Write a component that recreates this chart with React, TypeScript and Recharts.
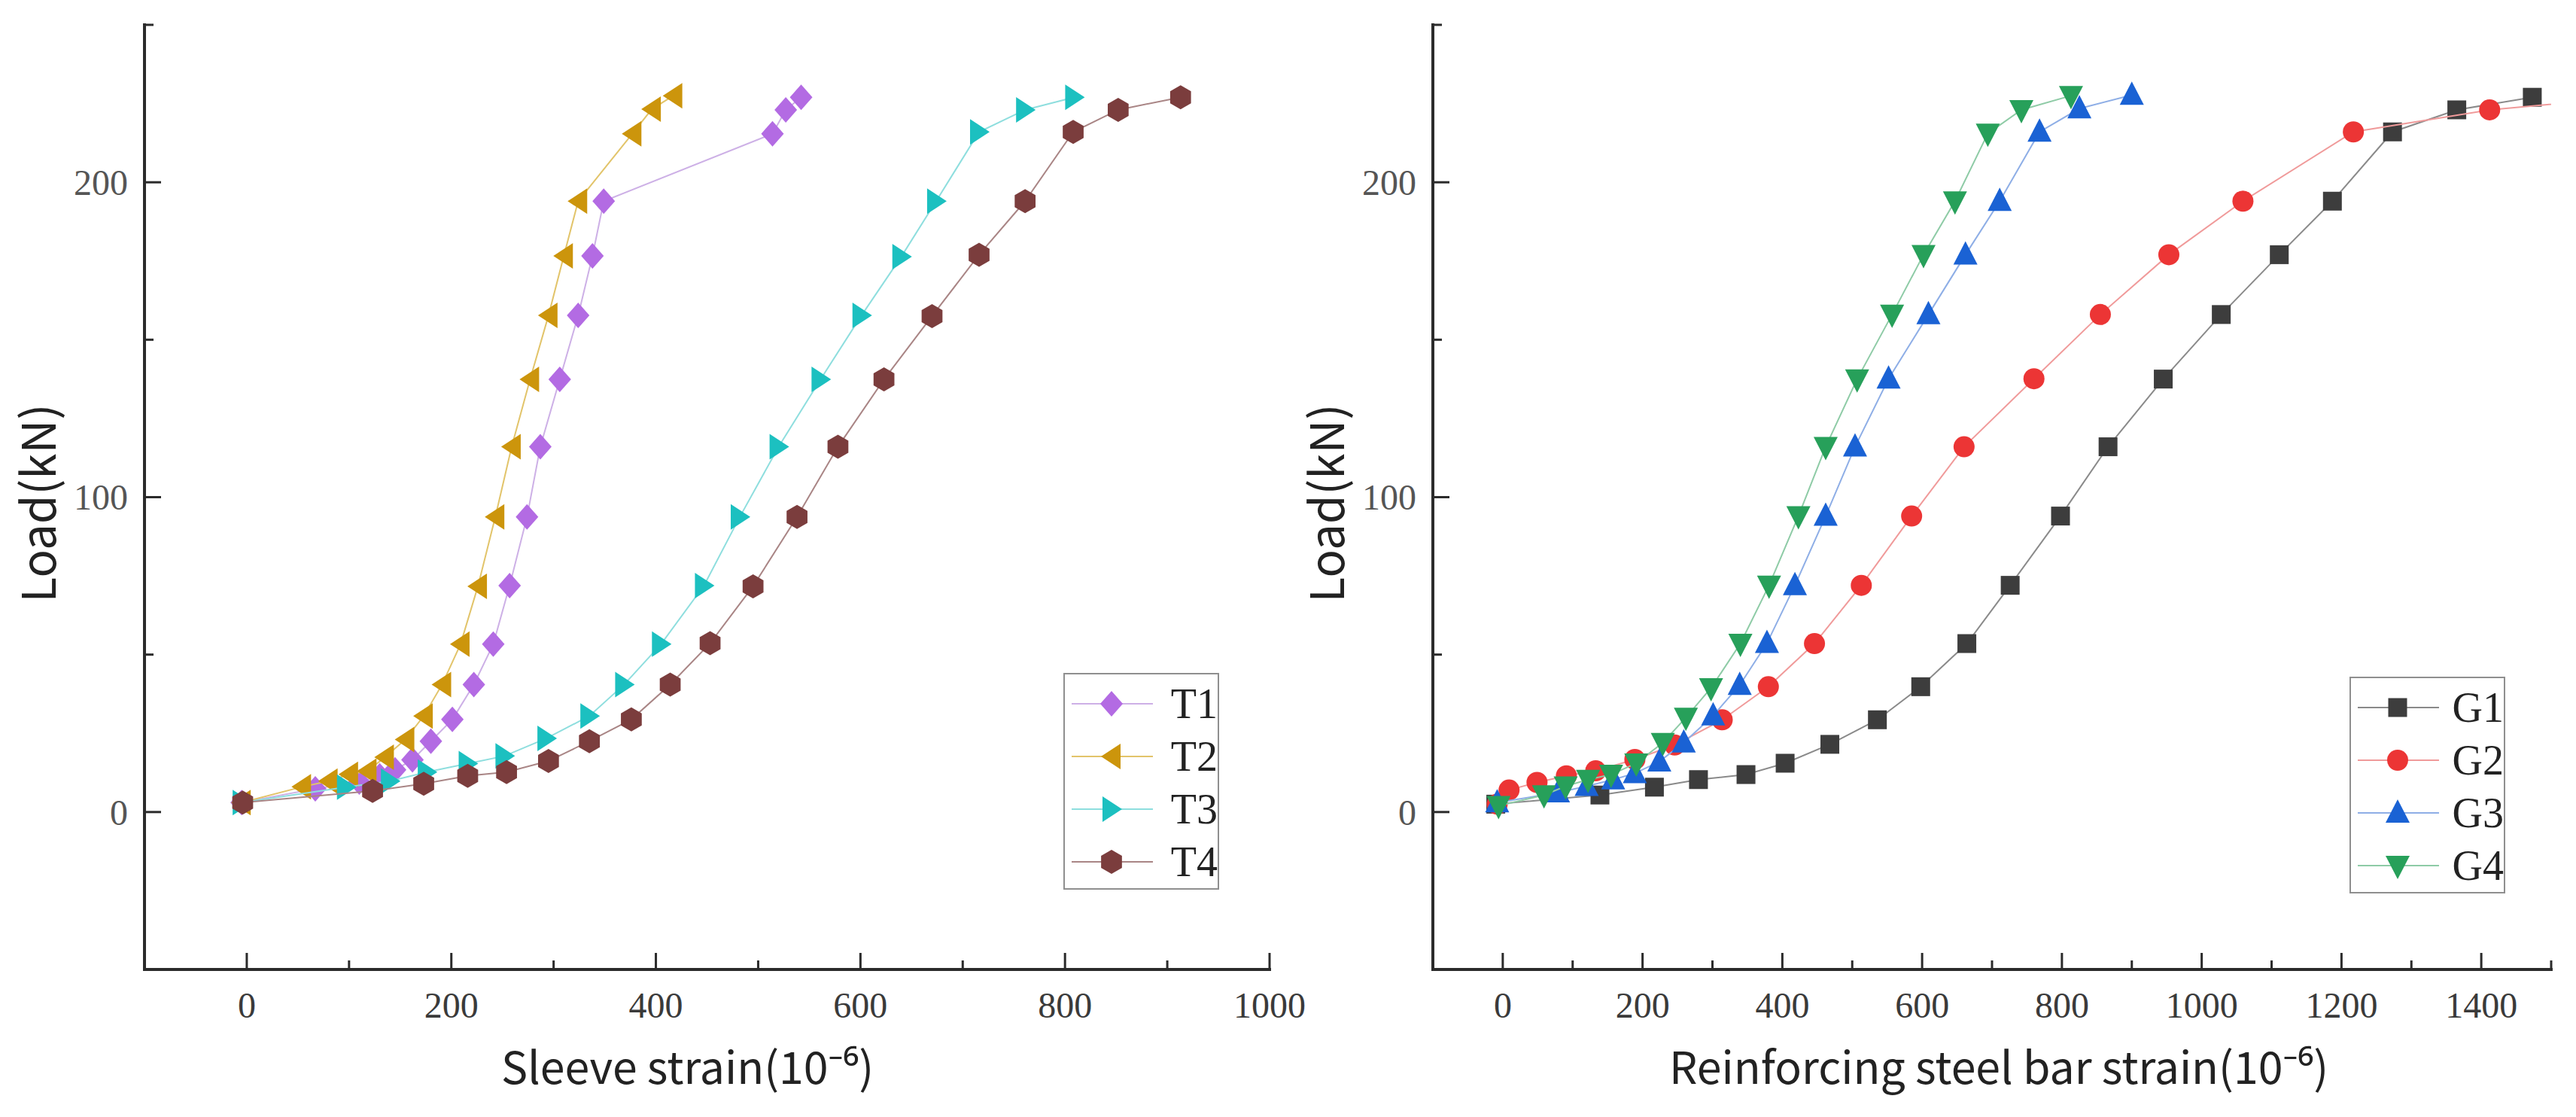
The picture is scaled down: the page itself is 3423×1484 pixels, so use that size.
import React from 'react';
import { ScatterChart, Scatter, XAxis, YAxis, Legend, Label } from 'recharts';

// sleeve strain tests (left panel)
const T1_STRAIN = [-5, 67, 110, 130, 145, 162, 180, 201, 222, 241, 257, 274, 287, 306, 324, 338, 349, 514, 527, 542];
const T1_LOAD = [3, 7.4, 9.5, 11.5, 13.4, 16.6, 22.5, 29.4, 40.5, 53.3, 71.9, 93.7, 116, 137.4, 157.7, 176.6, 194, 215.4, 223, 227];
const T2_STRAIN = [-5, 54, 80, 100, 118, 135, 155, 173, 191, 209, 226, 243, 259, 277, 295, 310, 324, 377, 396, 417];
const T2_LOAD = [3, 8, 9.8, 12, 13, 17.4, 23, 30.5, 40.5, 53.3, 71.7, 93.7, 116, 137.4, 157.7, 176.6, 194, 215.4, 223.2, 227.5];
const T3_STRAIN = [-5, 97, 140, 176, 216, 252, 293, 335, 369, 405, 447, 482, 520, 561, 601, 640, 674, 716, 761, 809];
const T3_LOAD = [3, 7.9, 9.8, 12.7, 15.4, 17.8, 23.4, 30.5, 40.5, 53.3, 71.9, 93.7, 116, 137.4, 157.7, 176.4, 194, 216, 223, 227];
const T4_STRAIN = [-4, 123, 173, 216, 254, 295, 335, 376, 414, 453, 495, 538, 578, 623, 670, 716, 761, 808, 852, 913];
const T4_LOAD = [3, 6.7, 9, 11.5, 12.7, 16.2, 22.5, 29.4, 40.5, 53.6, 71.7, 93.7, 116, 137.4, 157.5, 177, 194, 216, 223, 227];

// reinforcing bar strain tests (right panel)
const G1_STRAIN = [-10, 139, 217, 280, 348, 404, 468, 536, 598, 664, 726, 798, 866, 945, 1028, 1111, 1187, 1273, 1365, 1473];
const G1_LOAD = [2.5, 5.4, 7.9, 10.3, 11.9, 15.5, 21.5, 29.3, 39.8, 53.5, 72, 94, 116, 137.5, 158, 177, 194, 216, 223, 227];
const G2_STRAIN = [-8, 9, 49, 91, 133, 189, 246, 314, 380, 446, 513, 585, 660, 760, 855, 953, 1059, 1217, 1412, 1560];
const G2_LOAD = [2.5, 7, 9.4, 11.5, 13.1, 16.7, 21.3, 29.3, 39.8, 53.5, 72, 94, 116, 137.6, 158, 177, 194, 216, 223, 226];
const G3_STRAIN = [-8, 79, 120, 158, 189, 224, 259, 301, 339, 378, 418, 462, 504, 552, 609, 662, 711, 768, 825, 900];
const G3_LOAD = [3, 6.2, 8.2, 10.3, 12.3, 16, 22, 30.6, 40.3, 53.6, 72, 94, 116, 137.6, 158, 177, 194, 216, 223.4, 227.7];
const G4_STRAIN = [-6, 59, 90, 122, 155, 191, 229, 262, 298, 340, 381, 423, 462, 507, 557, 602, 647, 694, 742, 813];
const G4_LOAD = [2, 5.4, 8.2, 10.3, 11.9, 15.5, 22, 30, 39.4, 53.5, 72, 94, 116, 137.5, 158, 177, 194, 215.5, 223, 227.5];

const LOAD_TICKS = [0, 50, 100, 150, 200, 250];
const SLEEVE_TICKS = [0, 100, 200, 300, 400, 500, 600, 700, 800, 900, 1000];
const BAR_TICKS = [0, 100, 200, 300, 400, 500, 600, 700, 800, 900, 1000, 1100, 1200, 1300, 1400, 1500];

const AXIS = '#2b2b2b';
const SERIF = '"Liberation Serif", "Times New Roman", serif';
const SANS = '"Noto Sans CJK SC", "Noto Sans", sans-serif';

type Kind = 'diamond' | 'left' | 'right' | 'hexagon' | 'square' | 'circle' | 'up' | 'down';

interface SeriesDef {
  name: string;
  strain: number[];
  load: number[];
  color: string;
  line: string;
  kind: Kind;
}

const sleeveSeries: SeriesDef[] = [
  { name: 'T1', strain: T1_STRAIN, load: T1_LOAD, color: '#b36be3', line: '#cdb0e6', kind: 'diamond' },
  { name: 'T2', strain: T2_STRAIN, load: T2_LOAD, color: '#cc950c', line: '#e2c46a', kind: 'left' },
  { name: 'T3', strain: T3_STRAIN, load: T3_LOAD, color: '#1cc0c0', line: '#8edede', kind: 'right' },
  { name: 'T4', strain: T4_STRAIN, load: T4_LOAD, color: '#7b3d3d', line: '#a98585', kind: 'hexagon' },
];

const barSeries: SeriesDef[] = [
  { name: 'G1', strain: G1_STRAIN, load: G1_LOAD, color: '#3d3d3d', line: '#8a8a8a', kind: 'square' },
  { name: 'G2', strain: G2_STRAIN, load: G2_LOAD, color: '#ec3535', line: '#f09a9a', kind: 'circle' },
  { name: 'G3', strain: G3_STRAIN, load: G3_LOAD, color: '#1a62d4', line: '#8eaee6', kind: 'up' },
  { name: 'G4', strain: G4_STRAIN, load: G4_LOAD, color: '#27a05a', line: '#8ecba6', kind: 'down' },
];

const toPoints = (xs: number[], ys: number[]) => xs.map((x, i) => ({ x, y: ys[i] }));

const Marker = ({ cx, cy, kind, color }: { cx: number; cy: number; kind: Kind; color: string }) => {
  if (cx == null || cy == null) return null;
  switch (kind) {
    case 'diamond':
      return <polygon points={`${cx},${cy - 17} ${cx + 15},${cy} ${cx},${cy + 17} ${cx - 15},${cy}`} fill={color} />;
    case 'left':
      return <polygon points={`${cx - 14},${cy} ${cx + 12},${cy - 17} ${cx + 12},${cy + 17}`} fill={color} />;
    case 'right':
      return <polygon points={`${cx + 14},${cy} ${cx - 12},${cy - 17} ${cx - 12},${cy + 17}`} fill={color} />;
    case 'hexagon': {
      const pts = [0, 1, 2, 3, 4, 5]
        .map((k) => {
          const a = ((-90 + k * 60) * Math.PI) / 180;
          return `${cx + 16 * Math.cos(a)},${cy + 16 * Math.sin(a)}`;
        })
        .join(' ');
      return <polygon points={pts} fill={color} />;
    }
    case 'square':
      return <rect x={cx - 12.5} y={cy - 12.5} width={25} height={25} fill={color} />;
    case 'circle':
      return <circle cx={cx} cy={cy} r={14} fill={color} />;
    case 'up':
      return <polygon points={`${cx},${cy - 18} ${cx + 16},${cy + 13} ${cx - 16},${cy + 13}`} fill={color} />;
    case 'down':
      return <polygon points={`${cx},${cy + 18} ${cx + 16},${cy - 13} ${cx - 16},${cy - 13}`} fill={color} />;
    default:
      return null;
  }
};

const makeXTick = (majorStep: number) => (props: any) => {
  const { x, y, payload } = props;
  const v = payload.value;
  const major = v % majorStep === 0;
  return (
    <g>
      <line x1={x} x2={x} y1={y} y2={y - (major ? 22 : 12)} stroke={AXIS} strokeWidth={3} />
      {major && (
        <text x={x} y={y + 64} textAnchor="middle" fontFamily={SERIF} fontSize={48} fill="#3a3a3a">
          {v}
        </text>
      )}
    </g>
  );
};

const renderYTick = (props: any) => {
  const { x, y, payload } = props;
  const v = payload.value;
  const major = v % 100 === 0;
  return (
    <g>
      <line x1={x} x2={x + (major ? 22 : 12)} y1={y} y2={y} stroke={AXIS} strokeWidth={3} />
      {major && (
        <text x={x - 22} y={y} dy="0.35em" textAnchor="end" fontFamily={SERIF} fontSize={48} fill="#555">
          {v}
        </text>
      )}
    </g>
  );
};

const LegendBox = ({ series }: { series: SeriesDef[] }) => (
  <div style={{ border: '2px solid #8f8f8f', background: '#fff', paddingTop: 4, boxSizing: 'border-box', width: 207, height: 288 }}>
    {series.map((s) => (
      <div key={s.name} style={{ display: 'flex', alignItems: 'center', height: 70 }}>
        <svg width={140} height={70}>
          <line x1={9} x2={117} y1={35} y2={35} stroke={s.line} strokeWidth={2} />
          <Marker cx={62} cy={35} kind={s.kind} color={s.color} />
        </svg>
        <span style={{ fontFamily: SERIF, fontSize: 56, color: '#222', lineHeight: '70px', marginLeft: 6 }}>{s.name}</span>
      </div>
    ))}
  </div>
);

interface PanelProps {
  width: number;
  rightMargin: number;
  series: SeriesDef[];
  domain: [number, number];
  ticks: number[];
  xTitle: string;
  xTitleDx: number;
  legendLeft: number;
  legendTop: number;
}

const Panel: React.FC<PanelProps> = ({ width, rightMargin, series, domain, ticks, xTitle, xTitleDx, legendLeft, legendTop }) => (
  <ScatterChart width={width} height={1484} margin={{ top: 33, right: rightMargin, bottom: 0, left: 0 }}>
    <XAxis
      type="number"
      dataKey="x"
      domain={domain}
      ticks={ticks}
      interval={0}
      allowDataOverflow
      height={196}
      tickLine={false}
      tickSize={0}
      tickMargin={0}
      axisLine={{ stroke: AXIS, strokeWidth: 4, strokeLinecap: 'square' }}
      tick={makeXTick(200)}
    >
      <Label
        content={(p: any) => {
          const vb = p.viewBox;
          return (
            <text x={vb.x + vb.width / 2 + xTitleDx} y={vb.y + 152} textAnchor="middle" fontFamily={SANS} fontSize={59} fill="#222">
              {xTitle}
            </text>
          );
        }}
      />
    </XAxis>
    <YAxis
      type="number"
      dataKey="y"
      domain={[-50, 250]}
      ticks={LOAD_TICKS}
      interval={0}
      width={192}
      tickLine={false}
      tickSize={0}
      tickMargin={0}
      axisLine={{ stroke: AXIS, strokeWidth: 4, strokeLinecap: 'square' }}
      tick={renderYTick}
    >
      <Label
        content={(p: any) => {
          const vb = p.viewBox;
          const cy = vb.y + vb.height / 2 + 8;
          return (
            <text x={52} y={cy} transform={`rotate(-90 52 ${cy})`} dy="0.35em" textAnchor="middle" fontFamily={SANS} fontSize={62} fill="#222">
              Load(kN)
            </text>
          );
        }}
      />
    </YAxis>
    {series.map((s) => (
      <Scatter
        key={s.name}
        name={s.name}
        data={toPoints(s.strain, s.load)}
        fill={s.color}
        line={{ stroke: s.line, strokeWidth: 2 }}
        shape={(p: any) => <Marker cx={p.cx} cy={p.cy} kind={s.kind} color={s.color} />}
        isAnimationActive={false}
      />
    ))}
    <Legend
      layout="vertical"
      align="center"
      verticalAlign="middle"
      wrapperStyle={{ position: 'absolute', left: legendLeft, top: legendTop, width: 207, height: 288 }}
      content={() => <LegendBox series={series} />}
    />
  </ScatterChart>
);

// the left chart is drawn a bit wider so its "1000" label is not cut at the panel seam
const OVERLAP = 48;

export default function App() {
  return (
    <div style={{ position: 'absolute', left: 0, top: 0, width: 3423, height: 1484, background: '#fff', display: 'flex' }}>
      <div style={{ width: 1712 + OVERLAP, flex: 'none' }}>
        <Panel
          width={1712 + OVERLAP}
          rightMargin={25 + OVERLAP}
          series={sleeveSeries}
          domain={[-100, 1000]}
          ticks={SLEEVE_TICKS}
          xTitle="Sleeve strain(10⁻⁶)"
          xTitleDx={-26}
          legendLeft={1413}
          legendTop={894}
        />
      </div>
      <div style={{ width: 1711, flex: 'none', marginLeft: -OVERLAP }}>
        <Panel
          width={1711}
          rightMargin={33}
          series={barSeries}
          domain={[-100, 1500]}
          ticks={BAR_TICKS}
          xTitle="Reinforcing steel bar strain(10⁻⁶)"
          xTitleDx={9}
          legendLeft={1410}
          legendTop={899}
        />
      </div>
    </div>
  );
}
